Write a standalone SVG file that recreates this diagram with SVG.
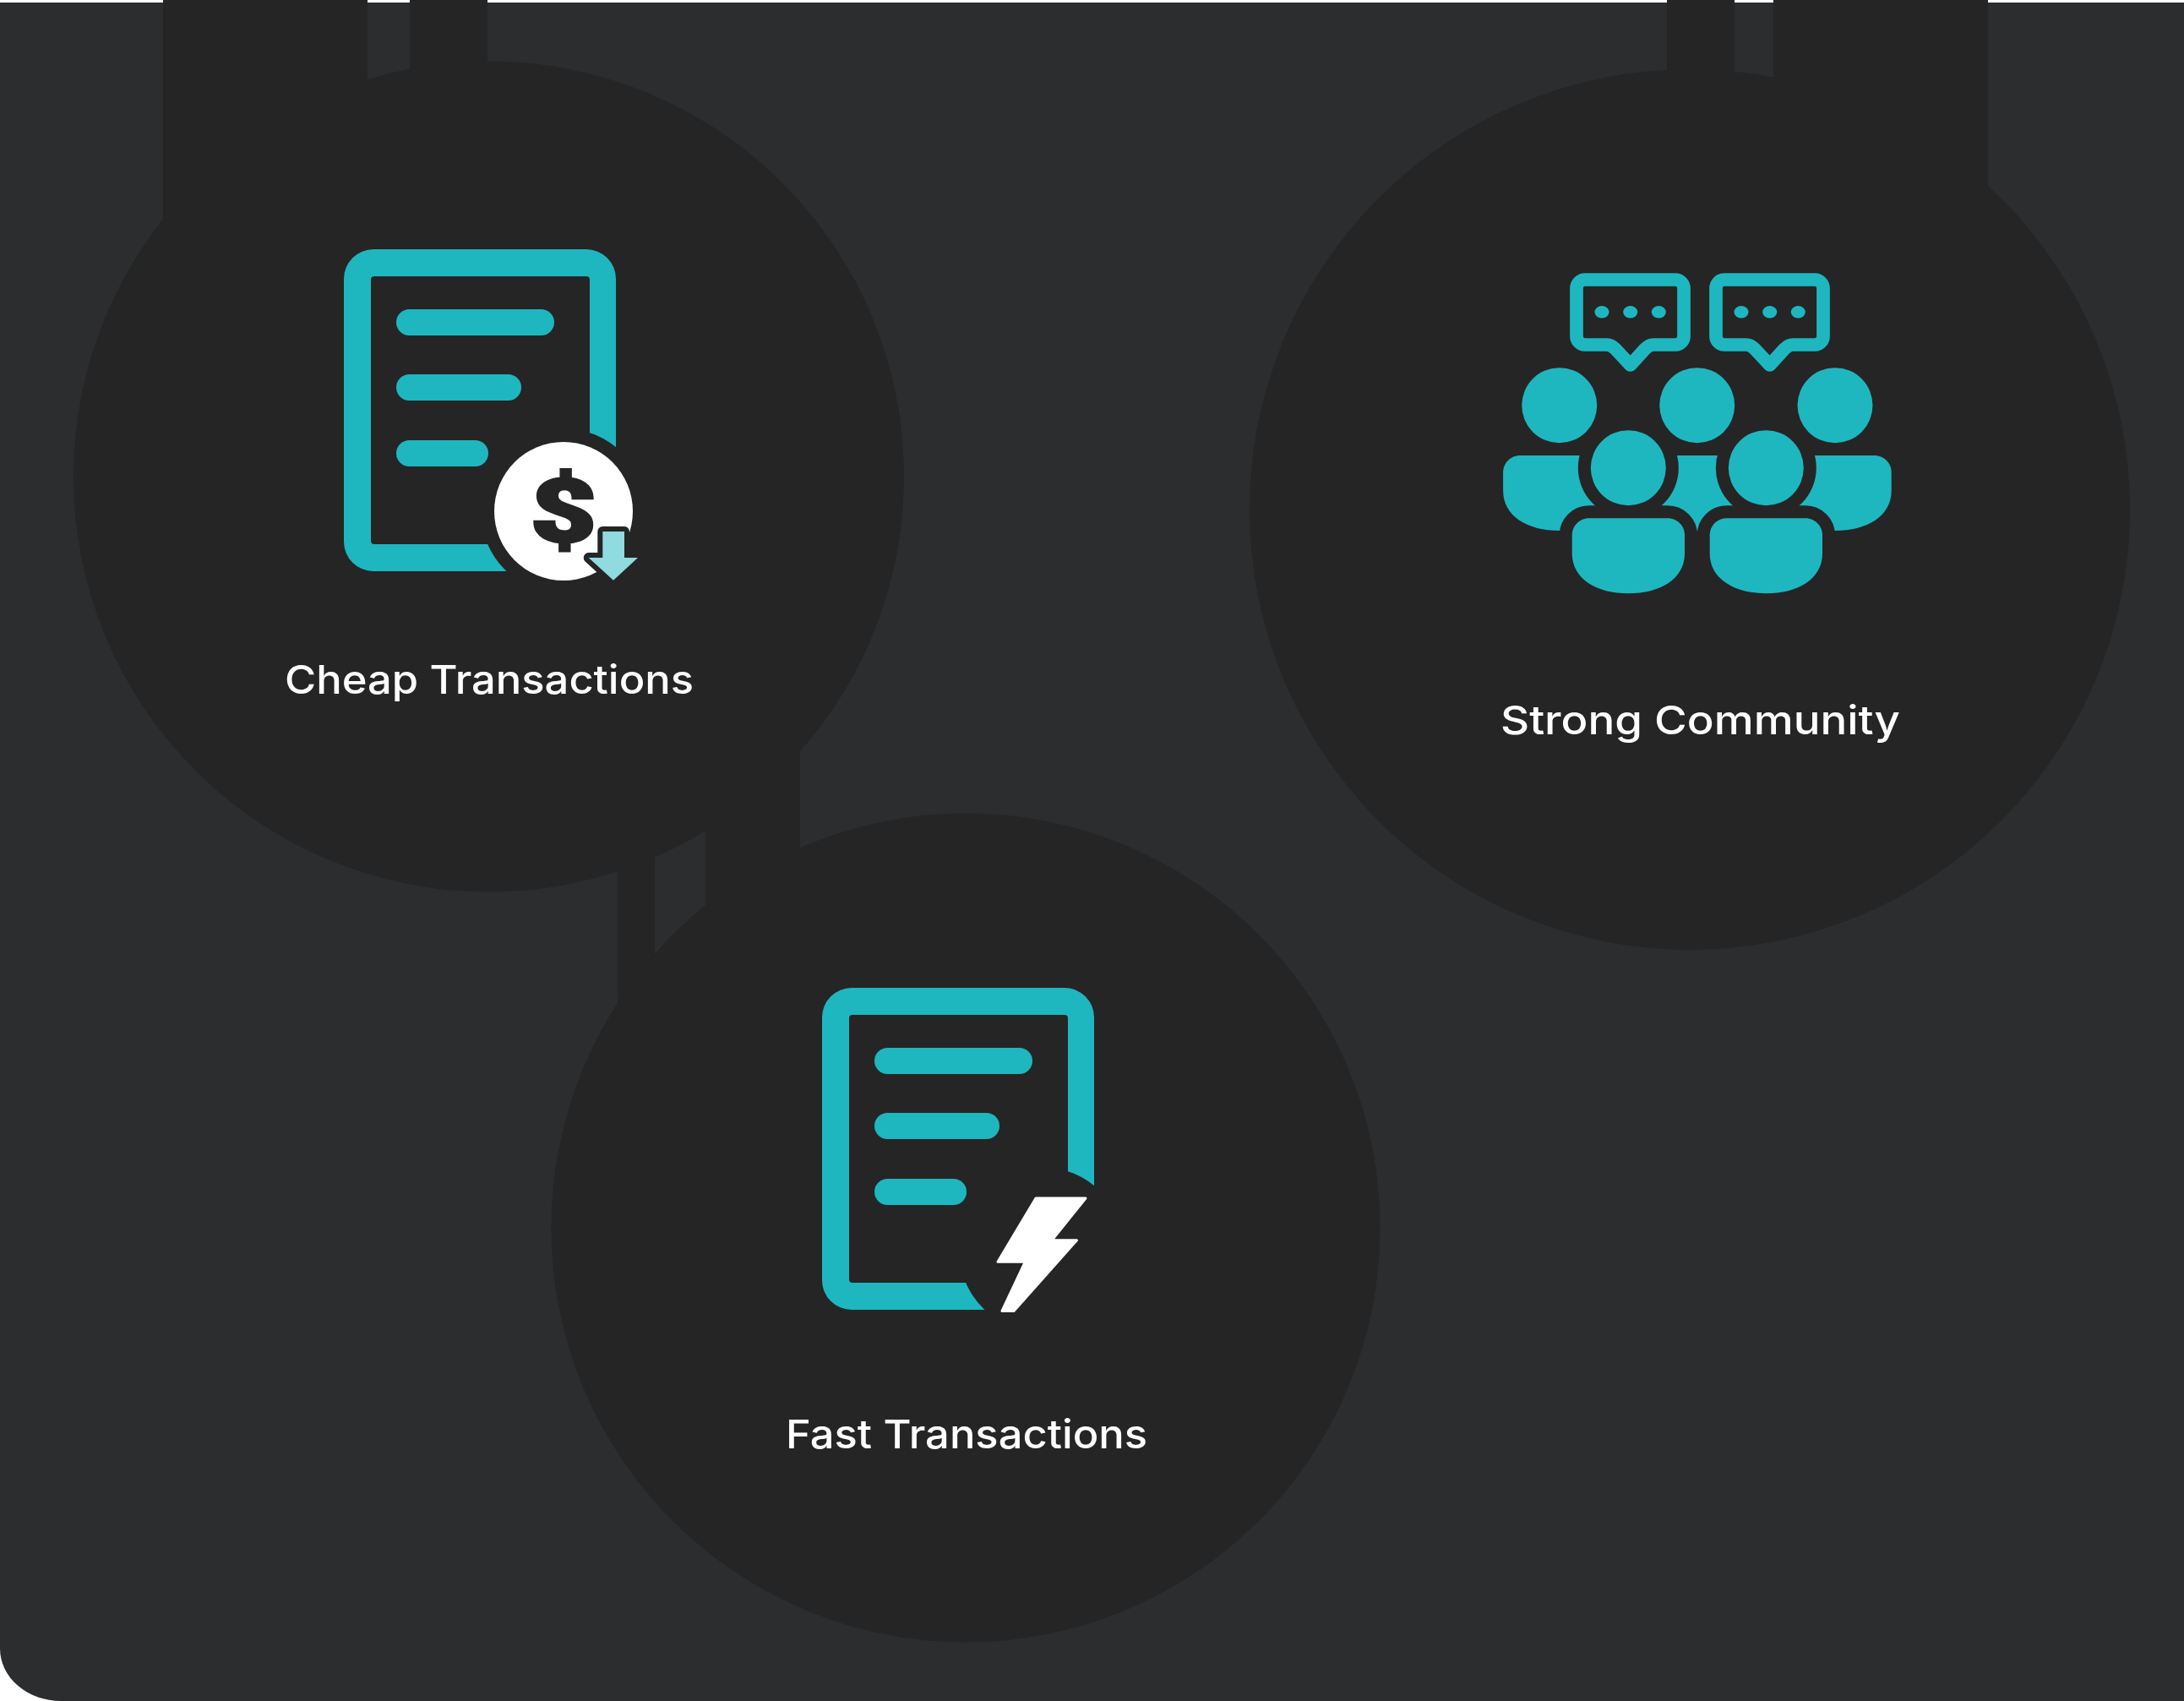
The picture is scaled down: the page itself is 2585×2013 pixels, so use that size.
<svg xmlns="http://www.w3.org/2000/svg" xmlns:xlink="http://www.w3.org/1999/xlink" width="2585" height="2013" viewBox="0 0 2585 2013">
<style>
.dark{fill:#252525}
.teal{fill:#1eb7c0}
.white{fill:#fff}
.label{font-family:"Inter","Liberation Sans",sans-serif;font-size:47px;font-weight:550;fill:#fff}
.bubble{fill:none;stroke:#1eb7c0;stroke-width:15.7;stroke-linejoin:round}
</style>
<defs>
<g id="doc">
<path class="teal" fill-rule="evenodd" d="M442,295H694A35,35 0 0 1 729,330V641A35,35 0 0 1 694,676H442A35,35 0 0 1 407,641V330A35,35 0 0 1 442,295ZM443,327A4,4 0 0 0 439,331V640A4,4 0 0 0 443,644H694A4,4 0 0 0 698,640V331A4,4 0 0 0 694,327Z"/>
<rect class="teal" x="469" y="366" width="187" height="31" rx="15.5"/>
<rect class="teal" x="469" y="443" width="148" height="31" rx="15.5"/>
<rect class="teal" x="469" y="521" width="109" height="31" rx="15.5"/>
<circle class="dark" cx="667" cy="605" r="98"/>
</g>
<path id="body" d="M1880.7,613.3H1974C1985,613.3 1994,622.3 1994,633.3V655C1994,685 1965,702.3 1927.3,702.3C1889.6,702.3 1860.7,685 1860.7,655V633.3C1860.7,622.3 1869.7,613.3 1880.7,613.3Z"/>
<g id="speech">
<path class="bubble" d="M1876,331H1983A10,10 0 0 1 1993,341V398A10,10 0 0 1 1983,408H1957C1953,408 1950,410 1947,413L1929.7,432L1912,413C1909,410 1906,408 1902,408H1876A10,10 0 0 1 1866,398V341A10,10 0 0 1 1876,331Z"/>
<ellipse class="teal" cx="1896" cy="369.3" rx="8.5" ry="7.2"/>
<ellipse class="teal" cx="1929.7" cy="369.3" rx="8.5" ry="7.2"/>
<ellipse class="teal" cx="1963.3" cy="369.3" rx="8.5" ry="7.2"/>
</g>
</defs>
<rect width="2585" height="2013" fill="#fff"/>
<path id="panel" fill="#2b2d2f" d="M0,3H2585V2013H72A72,62 0 0 1 0,1951Z"/>
<g id="connectors">
<rect class="dark" x="193" y="0" width="242" height="330"/>
<rect class="dark" x="485" y="0" width="92" height="110"/>
<rect class="dark" x="1973" y="0" width="80" height="110"/>
<rect class="dark" x="2099" y="0" width="254" height="240"/>
<rect class="dark" x="731" y="1000" width="44" height="250"/>
<rect class="dark" x="835" y="860" width="112" height="240"/>
</g>
<g id="node-cheap-transactions">
<circle class="dark" cx="578.5" cy="564" r="491.5"/>
<use href="#doc"/>
<circle class="white" cx="667" cy="605" r="82"/>
<text transform="translate(667,641) scale(1.3,1)" text-anchor="middle" stroke="#252525" stroke-width="3" style="font-family:Roboto,'DejaVu Sans',sans-serif;font-weight:900;font-size:104px;fill:#252525">$</text>
<path fill="#8fdbdf" stroke="#252525" stroke-width="12" stroke-linejoin="round" paint-order="stroke" d="M713.3,629H739V660H755L726,686.7L696.7,660H713.3Z"/>
<text class="label" x="337" y="821" textLength="484" lengthAdjust="spacingAndGlyphs">Cheap Transactions</text>
</g>
<g id="node-strong-community">
<circle class="dark" cx="2000" cy="603" r="521"/>
<use href="#speech"/>
<use href="#speech" x="165"/>
<circle class="teal" cx="1845.7" cy="479.7" r="44.5"/>
<circle class="teal" cx="2008.7" cy="479.7" r="44.5"/>
<circle class="teal" cx="2172" cy="479.7" r="44.5"/>
<use href="#body" class="teal" x="-81.6" y="-74.3"/>
<use href="#body" class="teal" x="81.4" y="-74.3"/>
<use href="#body" class="teal" x="244.7" y="-74.3"/>
<circle class="dark" cx="1927.3" cy="553.7" r="59.5"/>
<circle class="dark" cx="2090.3" cy="553.7" r="59.5"/>
<use href="#body" class="dark" stroke="#252525" stroke-width="30"/>
<use href="#body" class="dark" stroke="#252525" stroke-width="30" x="163"/>
<circle class="teal" cx="1927.3" cy="553.7" r="44.5"/>
<circle class="teal" cx="2090.3" cy="553.7" r="44.5"/>
<use href="#body" class="teal"/>
<use href="#body" class="teal" x="163"/>
<text class="label" x="1776" y="869" textLength="473" lengthAdjust="spacingAndGlyphs">Strong Community</text>
</g>
<g id="node-fast-transactions">
<circle class="dark" cx="1143" cy="1453" r="490.5"/>
<use href="#doc" x="566" y="874"/>
<path class="white" stroke="#fff" stroke-width="3" stroke-linejoin="round" d="M1226,1418H1285L1245,1467.7H1274.5L1200,1551.5H1186L1213.3,1493.3H1181Z"/>
<text class="label" x="930" y="1714" textLength="428" lengthAdjust="spacingAndGlyphs">Fast Transactions</text>
</g>
</svg>
